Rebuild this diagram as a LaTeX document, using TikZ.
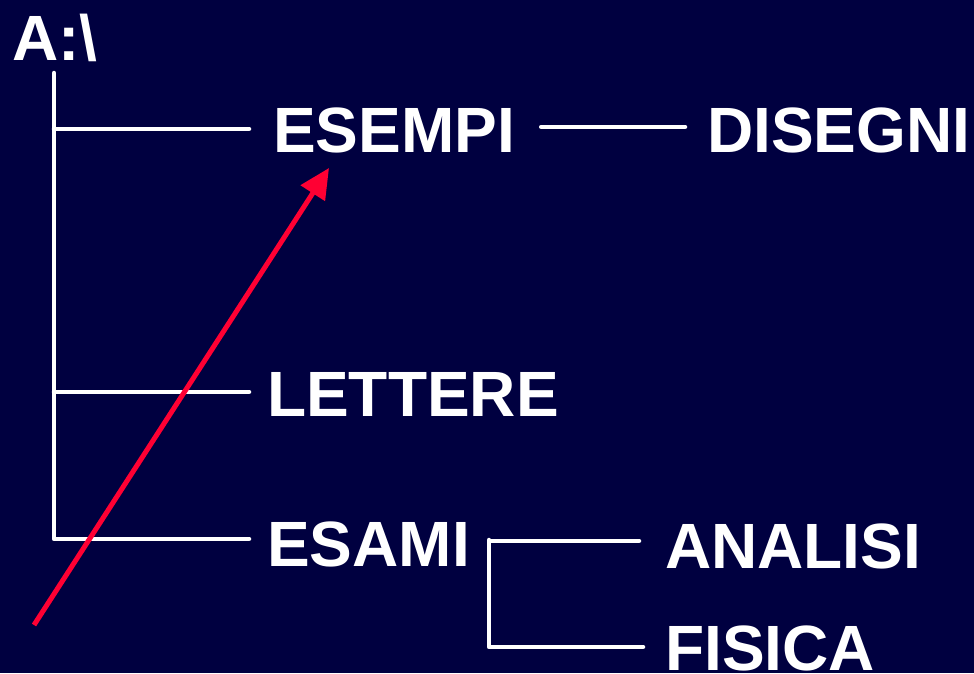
\documentclass[tikz,border=0pt]{standalone}
\usepackage{fontspec}
\setmainfont{Liberation Sans}
\usepackage{tikz}
\usetikzlibrary{arrows.meta, calc, positioning}
\definecolor{slidebg}{HTML}{000040}
\definecolor{pathred}{HTML}{FF0033}
\tikzstyle{folder} = [text=white, font=\fontsize{64}{64}\selectfont\bfseries, inner sep=0pt, anchor=base west]
\tikzstyle{branch} = [white, line width=4.5pt, line cap=round, line join=round]
\tikzstyle{arrow} = [pathred, line width=5pt, -{Triangle[length=30pt,width=28pt]}]

\begin{document}
\begin{tikzpicture}[x=1pt, y=-1pt]
		\fill[slidebg] (0,0) rectangle (974,673);
		\node (Root) [folder] at (12,60) {A:\textbackslash};
		\node (Esempi) [folder] at (273,152) {ESEMPI};
		\node (Disegni) [folder] at (707,152) {DISEGNI};
		\node (Lettere) [folder] at (267,416) {LETTERE};
		\node (Esami) [folder] at (267,566) {ESAMI};
		\node (Analisi) [folder] at (665,568) {ANALISI};
		\node (Fisica) [folder] at (665,670) {FISICA};
		\coordinate (TrunkTop) at (54,73);
		\coordinate (SubTop) at (489,540);
		\coordinate (ArrowStart) at (34,625);
		\coordinate (ArrowEnd) at (329,168);
		\draw [branch] (TrunkTop) |- ($(Esami.west)+(-18,-5)$);
		\draw [branch] (TrunkTop |- Esempi.west) ++(0,-1) -- ($(Esempi.west)+(-24,-1)$);
		\draw [branch] (TrunkTop |- Lettere.west) ++(0,-2) -- ($(Lettere.west)+(-18,-2)$);
		\draw [branch] ($(Esempi.east)+(26,-3)$) -- ($(Disegni.west)+(-22,-3)$);
		\draw [branch] ($(Analisi.west)+(-26,-5)$) -| (SubTop) |- ($(Fisica.west)+(-22,-1)$);
		\draw [arrow] (ArrowStart) -- (ArrowEnd);
		\end{tikzpicture}
\end{document}
